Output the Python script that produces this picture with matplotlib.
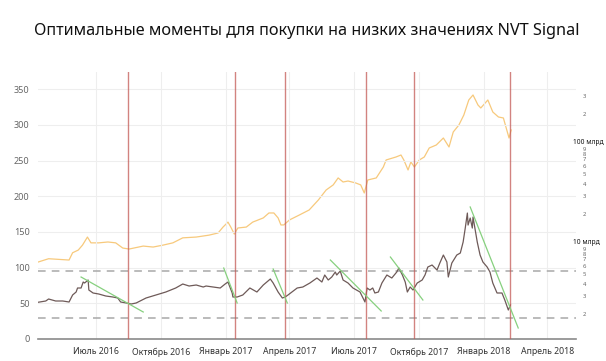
import matplotlib
matplotlib.use("Agg")
import matplotlib.pyplot as plt
import matplotlib.ticker as mticker
import numpy as np
import pandas as pd

# данные
cap_dates = ["2016-04-07", "2016-04-25", "2016-05-24", "2016-05-29", "2016-06-06", "2016-06-12",
             "2016-06-19", "2016-06-24", "2016-07-05", "2016-07-18", "2016-07-29", "2016-08-08",
             "2016-08-17", "2016-09-06", "2016-09-20", "2016-10-04", "2016-10-18", "2016-11-01",
             "2016-11-20", "2016-12-08", "2016-12-21", "2016-12-28", "2017-01-04", "2017-01-08",
             "2017-01-13", "2017-01-18", "2017-01-30", "2017-02-08", "2017-02-23", "2017-03-03",
             "2017-03-10", "2017-03-16", "2017-03-20", "2017-03-24", "2017-04-01", "2017-04-15",
             "2017-04-29", "2017-05-12", "2017-05-23", "2017-06-02", "2017-06-09", "2017-06-16",
             "2017-06-23", "2017-07-04", "2017-07-11", "2017-07-16", "2017-07-21", "2017-08-02",
             "2017-08-12", "2017-08-16", "2017-08-30", "2017-09-06", "2017-09-10", "2017-09-16",
             "2017-09-20", "2017-09-25", "2017-10-02", "2017-10-09", "2017-10-16", "2017-10-26",
             "2017-11-05", "2017-11-13", "2017-11-19", "2017-11-27", "2017-12-04", "2017-12-11",
             "2017-12-17", "2017-12-24", "2017-12-28", "2018-01-07", "2018-01-14", "2018-01-22",
             "2018-01-29", "2018-02-02", "2018-02-06", "2018-02-09"]
cap_bn = [6.2, 6.8, 6.6, 7.8, 8.3, 9.3, 11.2, 9.8, 9.8, 10.0, 9.8, 8.7,
          8.5, 9.1, 8.9, 9.3, 9.8, 11.0, 11.2, 11.7, 12.3, 14.1, 15.8, 14.1,
          12.0, 13.8, 14.1, 15.8, 17.4, 19.5, 19.5, 17.4, 14.8, 14.8, 16.6, 18.6,
          20.9, 26.3, 33.1, 37.2, 43.7, 39.8, 40.7, 38.9, 37.2, 30.9, 41.7, 43.7,
          56.2, 66.1, 70.8, 74.1, 66.1, 52.5, 63.1, 56.2, 66.1, 70.8, 87.1, 93.3,
          109.6, 89.1, 125.9, 147.9, 186.2, 263.0, 295.1, 234.4, 218.8, 263.0, 199.5, 177.8,
          173.8, 138.0, 109.6, 131.8]

nvt_dates = ["2016-04-10", "2016-04-21", "2016-04-25", "2016-05-05", "2016-05-15", "2016-05-24",
             "2016-05-29", "2016-06-03", "2016-06-05", "2016-06-10", "2016-06-13", "2016-06-15",
             "2016-06-20", "2016-06-21", "2016-06-27", "2016-07-05", "2016-07-15", "2016-07-25",
             "2016-08-01", "2016-08-05", "2016-08-13", "2016-08-20", "2016-08-27", "2016-09-10",
             "2016-09-24", "2016-10-08", "2016-10-22", "2016-11-01", "2016-11-10", "2016-11-20",
             "2016-11-30", "2016-12-04", "2016-12-14", "2016-12-24", "2016-12-31", "2017-01-04",
             "2017-01-10", "2017-01-11", "2017-01-17", "2017-01-25", "2017-02-04", "2017-02-14",
             "2017-02-23", "2017-03-05", "2017-03-09", "2017-03-16", "2017-03-22", "2017-03-26",
             "2017-03-30", "2017-04-12", "2017-04-20", "2017-04-30", "2017-05-10", "2017-05-17",
             "2017-05-21", "2017-05-26", "2017-05-31", "2017-06-05", "2017-06-07", "2017-06-12",
             "2017-06-16", "2017-06-23", "2017-06-30", "2017-07-10", "2017-07-17", "2017-07-20",
             "2017-07-24", "2017-07-28", "2017-07-31", "2017-08-05", "2017-08-10", "2017-08-17",
             "2017-08-24", "2017-08-31", "2017-09-03", "2017-09-08", "2017-09-12", "2017-09-15",
             "2017-09-19", "2017-09-23", "2017-09-29", "2017-10-06", "2017-10-10", "2017-10-14",
             "2017-10-20", "2017-10-27", "2017-10-31", "2017-11-05", "2017-11-10", "2017-11-12",
             "2017-11-17", "2017-11-24", "2017-11-29", "2017-12-03", "2017-12-06", "2017-12-09",
             "2017-12-10", "2017-12-13", "2017-12-16", "2017-12-17", "2017-12-23", "2017-12-27",
             "2017-12-31", "2018-01-06", "2018-01-10", "2018-01-14", "2018-01-20", "2018-01-27",
             "2018-01-31", "2018-02-05", "2018-02-08"]
nvt = [51.4, 53.2, 56.0, 53.2, 53.2, 51.8, 61.6, 65.8, 71.4, 71.4, 79.8, 78.4,
       82.6, 68.6, 64.4, 63.0, 60.2, 58.8, 57.4, 51.8, 50.4, 49.0, 50.4, 57.4,
       61.6, 65.8, 71.4, 77.0, 74.2, 75.6, 72.8, 74.2, 72.8, 71.4, 77.0, 79.8,
       64.4, 58.8, 58.8, 61.6, 71.4, 65.8, 75.6, 84.0, 78.4, 65.8, 57.4, 58.8,
       61.6, 71.4, 72.8, 78.4, 85.4, 79.8, 89.6, 82.6, 86.8, 93.8, 89.6, 95.2,
       82.6, 78.4, 71.4, 65.8, 51.8, 71.4, 68.6, 71.4, 64.4, 65.8, 78.4, 89.6,
       85.4, 93.8, 99.4, 89.6, 79.8, 65.8, 72.8, 68.6, 78.4, 82.6, 89.6, 100.8,
       103.6, 96.6, 106.4, 117.6, 107.8, 86.8, 106.4, 117.6, 120.4, 135.8, 155.4, 176.4,
       159.6, 169.4, 155.4, 170.8, 135.8, 117.6, 107.8, 100.8, 93.8, 78.4, 64.4, 64.4,
       54.6, 40.6, 47.6]

buy_dates = ["2016-08-15", "2017-01-14", "2017-03-26", "2017-07-19", "2017-09-25", "2018-02-08"]

trend_start = ["2016-06-10", "2016-12-29", "2017-03-09", "2017-05-29", "2017-08-22", "2017-12-13"]
trend_end = ["2016-09-06", "2017-01-17", "2017-03-29", "2017-08-09", "2017-10-07", "2018-02-19"]
trend_v0 = [86.8, 99.4, 98.0, 110.6, 114.8, 184.9]
trend_v1 = [37.8, 50.4, 50.4, 39.2, 54.6, 15.4]

levels = [95, 30]

xticks = ["2016-07-01", "2016-10-01", "2017-01-01", "2017-04-01", "2017-07-01",
          "2017-10-01", "2018-01-01", "2018-04-01"]
xlabels = ["Июль 2016", "Октябрь 2016", "Январь 2017", "Апрель 2017", "Июль 2017",
           "Октябрь 2017", "Январь 2018", "Апрель 2018"]

plt.rcParams['font.family'] = ['Noto Sans', 'DejaVu Sans']

fig = plt.figure(figsize=(6.06, 3.61), dpi=100)
ax = fig.add_axes([0.0627, 0.061, 0.888, 0.7396])
ax2 = ax.twinx()

# капитализация (правая шкала, лог)
ax2.plot(pd.to_datetime(cap_dates), cap_bn, color='#f7c97c', lw=0.9, zorder=2)
ax2.set_yscale('log')
ax2.set_ylim(10 ** 0.03, 10 ** 2.70)

# NVT signal
ax.plot(pd.to_datetime(nvt_dates), nvt, color='#6e5a58', lw=0.9, zorder=3)

for lv in levels:
    ax.axhline(lv, color='#a8a8a8', lw=1.1, ls=(0, (5, 4)), zorder=1)

for d in buy_dates:
    ax.axvline(pd.Timestamp(d), color='#c45a56', lw=1.0, alpha=0.75, zorder=4)

for s, e, v0, v1 in zip(trend_start, trend_end, trend_v0, trend_v1):
    ax.plot(pd.to_datetime([s, e]), [v0, v1], color='#86d07e', lw=0.9, zorder=5)

ax.set_xlim(pd.Timestamp("2016-04-10"), pd.Timestamp("2018-05-12"))
ax.set_ylim(0, 374)
ax.set_yticks(np.arange(0, 351, 50))
ax.set_xticks(pd.to_datetime(xticks))
ax.set_xticklabels(xlabels)
ax.grid(True, color='#eeeeee', lw=0.8)
ax.set_axisbelow(True)
ax.set_zorder(ax2.get_zorder() + 1)
ax.patch.set_visible(False)

ax.tick_params(axis='x', length=0, labelsize=6.3, colors='#333333', pad=6)
ax.tick_params(axis='y', length=0, labelsize=6.5, colors='#666666', pad=6)
for sp in ['top', 'left', 'right']:
    ax.spines[sp].set_visible(False)
    ax2.spines[sp].set_visible(False)
ax.spines['bottom'].set_color('#8a8a8a')
ax.spines['bottom'].set_linewidth(1.2)
ax2.spines['bottom'].set_visible(False)

# подписи правой шкалы
ax2.yaxis.set_major_locator(mticker.FixedLocator([10, 100]))
ax2.yaxis.set_major_formatter(mticker.FixedFormatter(["10 млрд", "100 млрд"]))
minor = [m * 10 ** k for k in (0, 1) for m in range(2, 10)] + [200, 300]
ax2.yaxis.set_minor_locator(mticker.FixedLocator(minor))
ax2.yaxis.set_minor_formatter(mticker.FuncFormatter(lambda v, p: "%d" % round(v / 10 ** np.floor(np.log10(v)))))
ax2.tick_params(axis='y', which='major', length=0, labelsize=4.8, colors='#111111', pad=-2)
ax2.tick_params(axis='y', which='minor', length=0, labelsize=4.2, colors='#666666', pad=5)
for t in ax2.yaxis.get_minor_ticks(len(minor)):
    t.label2.set_va('top')

fig.suptitle("Оптимальные моменты для покупки на низких значениях NVT Signal",
             x=0.506, y=0.935, fontsize=11.7, color='#111111')

fig.savefig("out.png", dpi=100)
